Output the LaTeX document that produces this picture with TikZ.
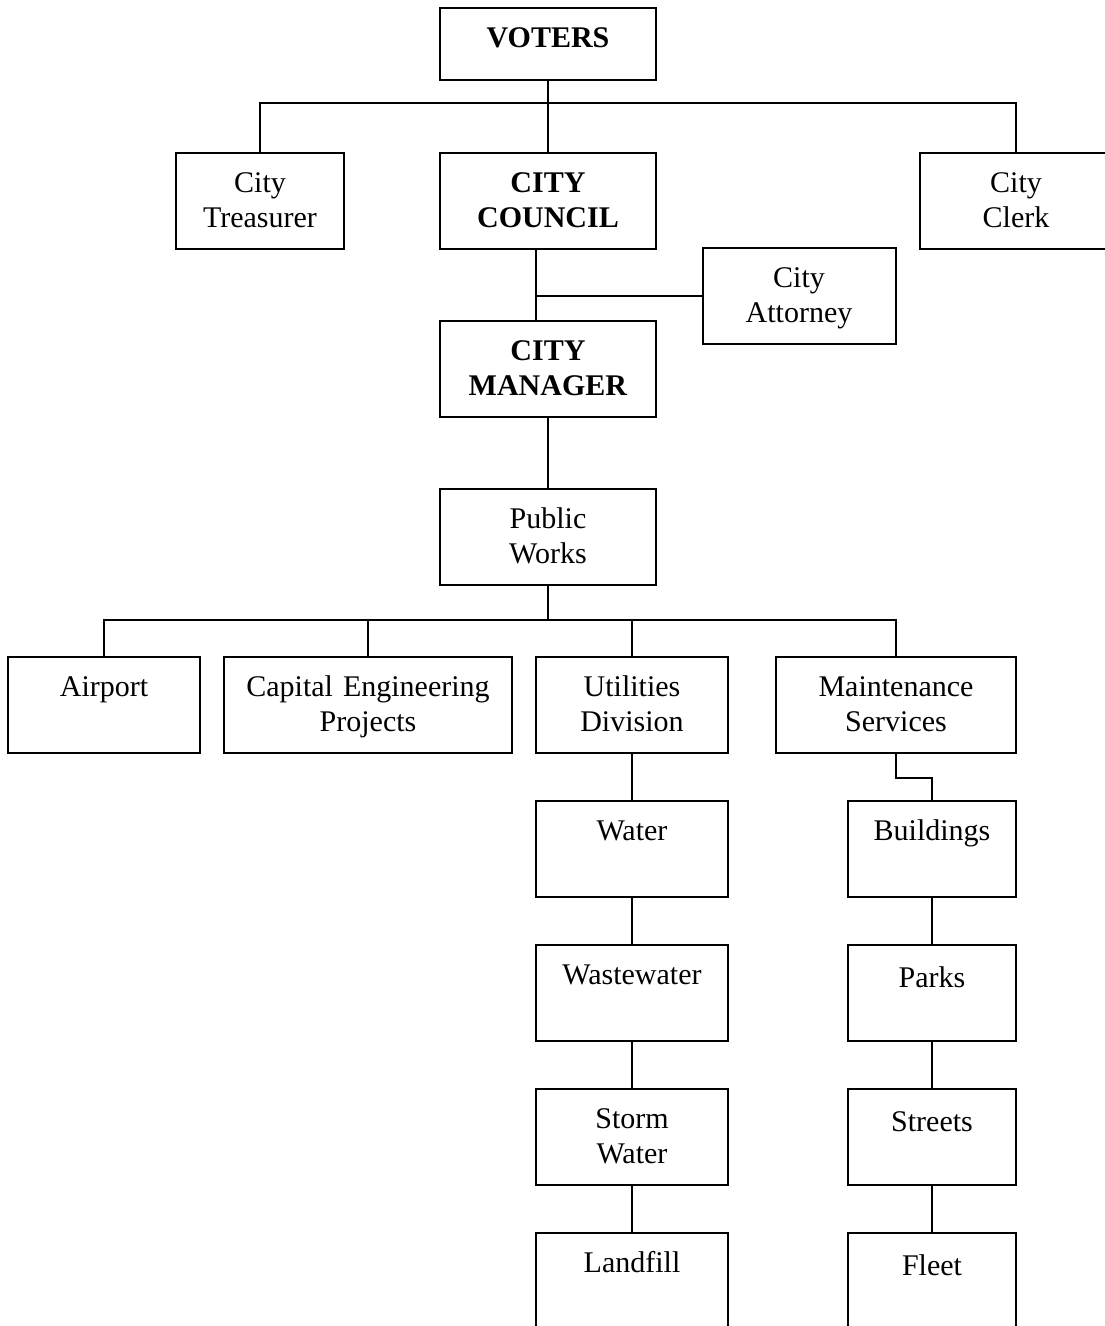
\documentclass[tikz,border=0pt]{standalone}
\usepackage{fontspec}
\setmainfont{Liberation Serif}

\tikzset{
  box/.style={draw, line width=2pt, inner sep=0pt, anchor=north, text width=#1,
    align=center, text height=39pt, text depth=57pt},
  short/.style={text depth=33pt},
  lower/.style={text height=42pt, text depth=54pt},
  every node/.style={font=\fontsize{30}{35}\selectfont},
}

\begin{document}
\begin{tikzpicture}[x=1pt, y=-1pt, line width=2pt]
        \clip (0,0) rectangle (1105,1326);

        % top level
        \node[box=216, short] (voters) at (548,7) {\textbf{VOTERS}};
        \node[box=168] (treasurer) at (260,152) {City\\Treasurer};
        \node[box=216] (council) at (548,152) {\textbf{CITY}\\\textbf{COUNCIL}};
        \node[box=192] (clerk) at (1016,152) {City\\Clerk};
        \node[box=193] (attorney) at (799,247) {City\\Attorney};
        \node[box=216] (manager) at (548,320) {\textbf{CITY}\\\textbf{MANAGER}};
        \node[box=216] (works) at (548,488) {Public\\Works};

        % divisions
        \node[box=192] (airport) at (104,656) {Airport};
        \node[box=288] (capital) at (368,656) {Capital Engineering\\Projects};
        \node[box=192] (utilities) at (632,656) {Utilities\\Division};
        \node[box=240] (maint) at (896,656) {Maintenance\\Services};

        % utilities column
        \node[box=192] (water) at (632,800) {Water};
        \node[box=192] (wastewater) at (632,944) {Wastewater};
        \node[box=192] (storm) at (632,1088) {Storm\\Water};
        \node[box=192] (landfill) at (632,1232) {Landfill};

        % maintenance column
        \node[box=168] (buildings) at (932,800) {Buildings};
        \node[box=168, lower] (parks) at (932,944) {Parks};
        \node[box=168, lower] (streets) at (932,1088) {Streets};
        \node[box=168, lower] (fleet) at (932,1232) {Fleet};

        % voters bus
        \coordinate (bus1) at (548,103);
        \draw (voters.south) -- (council.north);
        \draw (treasurer.north) |- (bus1) -| (clerk.north);

        % council to manager
        \coordinate (link) at ([xshift=-12]council.south);
        \draw (link) -- (link |- manager.north);
        \draw (attorney.west) -- (attorney.west -| link);
        \draw (manager.south) -- (works.north);

        % public works bus
        \coordinate (bus2) at (548,620);
        \draw (works.south) -- (bus2);
        \draw (airport.north) |- (bus2) -| (maint.north);
        \draw (capital.north) -- (capital.north |- bus2);
        \draw (utilities.north) -- (utilities.north |- bus2);

        % utilities chain
        \draw (utilities.south) -- (water.north);
        \draw (water.south) -- (wastewater.north);
        \draw (wastewater.south) -- (storm.north);
        \draw (storm.south) -- (landfill.north);

        % maintenance chain
        \draw (maint.south) -- ++(0,24) -| (buildings.north);
        \draw (buildings.south) -- (parks.north);
        \draw (parks.south) -- (streets.north);
        \draw (streets.south) -- (fleet.north);

    \end{tikzpicture}
\end{document}
